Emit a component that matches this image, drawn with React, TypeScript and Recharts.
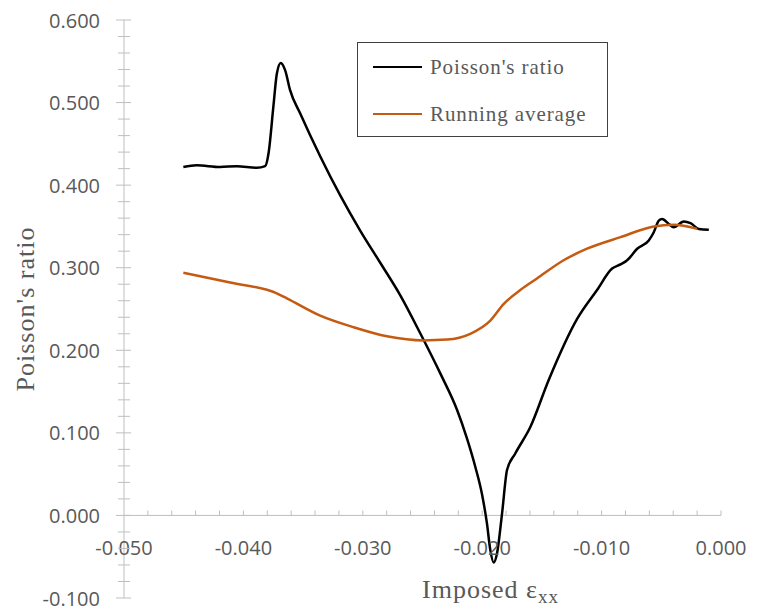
import React from 'react';
import { LineChart, Line, XAxis, YAxis, ReferenceLine, Legend, Label } from 'recharts';

// Poisson's ratio (black)
const ratioX = [
  -0.04503, -0.04391, -0.04195, -0.04055, -0.03888, -0.03818, -0.0379, -0.03749, -0.0372,
  -0.03687, -0.0365, -0.03609, -0.03525, -0.03357, -0.03189, -0.03022, -0.02854,
  -0.02686, -0.02519, -0.02351, -0.02211, -0.02127, -0.02058, -0.02002, -0.0196,
  -0.01932, -0.01904, -0.01876, -0.01834, -0.01792, -0.01723, -0.01597, -0.01443, -0.01205,
  -0.01038, -0.00912, -0.00842, -0.00786, -0.00702, -0.00605, -0.00563, -0.00521, -0.00493,
  -0.00437, -0.00396, -0.00312, -0.00256, -0.00186, -0.00102,
];
const ratioY = [
  0.422, 0.424, 0.422, 0.423, 0.421, 0.423, 0.438, 0.495, 0.535,
  0.548, 0.539, 0.515, 0.487, 0.435, 0.3875, 0.345, 0.306,
  0.2665, 0.2206, 0.172, 0.128, 0.093, 0.059, 0.026, -0.01,
  -0.042, -0.057, -0.046, 0.002, 0.055, 0.075, 0.107, 0.164, 0.238,
  0.273, 0.299, 0.304, 0.309, 0.323, 0.333, 0.343, 0.357, 0.359,
  0.353, 0.349, 0.356, 0.354, 0.347, 0.346,
];

// Running average (orange)
const avgX = [
  -0.04503, -0.04111, -0.0372, -0.03636, -0.03357, -0.03078, -0.02798, -0.02491, -0.02295,
  -0.021, -0.01932, -0.01821, -0.01681, -0.01541, -0.01318, -0.01122, -0.00842,
  -0.00563, -0.00396, -0.002,
];
const avgY = [
  0.294, 0.282, 0.269, 0.263, 0.242, 0.228, 0.217, 0.212, 0.213,
  0.22, 0.236, 0.256, 0.273, 0.287, 0.309, 0.323, 0.337,
  0.35, 0.352, 0.347,
];

const xMajorTicks = [-0.05, -0.04, -0.03, -0.02, -0.01, 0];
const yMajorTicks = [-0.1, 0, 0.1, 0.2, 0.3, 0.4, 0.5, 0.6];
const seriesNames = ["Poisson's ratio", 'Running average'];
const seriesColors = ['#000000', '#C55A11'];
const yTitle = "Poisson's ratio";
const xTitleMain = 'Imposed ε';
const xTitleSub = 'xx';

const ratioData = ratioX.map((x, i) => ({ x, y: ratioY[i] }));
const avgData = avgX.map((x, i) => ({ x, y: avgY[i] }));

// minor ticks: 5 intervals between each major
const makeTicks = (majors: number[]) => {
  const out: number[] = [];
  for (let i = 0; i < majors.length - 1; i++) {
    const a = majors[i];
    const b = majors[i + 1];
    for (let k = 0; k < 5; k++) out.push(Math.round((a + ((b - a) * k) / 5) * 1e6) / 1e6);
  }
  out.push(majors[majors.length - 1]);
  return out;
};
const xTicks = makeTicks(xMajorTicks);
const yTicks = makeTicks(yMajorTicks);

const W = 745;
const H = 602;
const M = { top: 12, right: 32, bottom: 11, left: 0 };
const Y_AXIS_W = 116;
const X_AXIS_H = 1;
const PLOT_H = H - M.top - M.bottom - X_AXIS_H;
const Y_MIN = -0.1;
const Y_MAX = 0.6;
const ZERO_SHIFT = (PLOT_H * (0 - Y_MIN)) / (Y_MAX - Y_MIN);

const AXIS = '#BFBFBF';
const TEXT = '#595959';
const TICK_FONT = "'Open Sans', sans-serif";
const SERIF = "'Liberation Serif', serif";

const isMajor = (v: number, step: number) => Math.abs(v / step - Math.round(v / step)) < 1e-6;
const fmt = (v: number) => (Math.abs(v) < 1e-9 ? 0 : v).toFixed(3);

const XTick = (props: any) => {
  const { x, y, payload } = props;
  const v = payload.value;
  const zy = y - ZERO_SHIFT;
  const major = isMajor(v, 0.01);
  return (
    <g>
      {v > -0.0499 && <line x1={x} x2={x} y1={zy} y2={zy - 5} stroke={AXIS} strokeWidth={1} />}
      {major && (
        <text x={x} y={zy + 32} textAnchor="middle" dominantBaseline="central" fill={TEXT} fontSize={20} fontFamily={TICK_FONT}>
          {fmt(v)}
        </text>
      )}
    </g>
  );
};

const YTick = (props: any) => {
  const { x, y, payload } = props;
  const v = payload.value;
  const major = isMajor(v, 0.1);
  return (
    <g>
      <line x1={x - (major ? 8 : 6)} x2={x + (major ? 7 : 6)} y1={y} y2={y} stroke={AXIS} strokeWidth={1} />
      {major && (
        <text x={x - 24} y={y} textAnchor="end" dominantBaseline="central" fill={TEXT} fontSize={20} fontFamily={TICK_FONT}>
          {fmt(v)}
        </text>
      )}
    </g>
  );
};

const LegendBox = () => (
  <div
    style={{
      width: 249,
      height: 93,
      border: '1px solid #404040',
      background: '#fff',
      position: 'relative',
      fontFamily: SERIF,
      fontSize: 21,
      letterSpacing: 0.9,
      color: TEXT,
    }}
  >
    {seriesNames.map((name, i) => (
      <div key={name} style={{ position: 'absolute', left: 15, top: 10 + i * 47, height: 28, display: 'flex', alignItems: 'center' }}>
        <div style={{ width: 49, height: 0, borderTop: `2.5px solid ${seriesColors[i]}` }} />
        <span style={{ marginLeft: 8, whiteSpace: 'nowrap' }}>{name}</span>
      </div>
    ))}
  </div>
);

export default function App() {
  return (
    <LineChart width={W} height={H} margin={M}>
      <XAxis
        type="number"
        dataKey="x"
        domain={[-0.05, 0]}
        ticks={xTicks}
        interval={0}
        height={X_AXIS_H}
        axisLine={false}
        tickLine={false}
        tickSize={0}
        tickMargin={0}
        tick={<XTick />}
        allowDataOverflow
      >
        <Label
          content={(p: any) => {
            const vb = p.viewBox || {};
            return (
              <text x={vb.x + vb.width / 2 + 68} y={vb.y} textAnchor="middle" fill={TEXT} fontFamily={SERIF} fontSize={26} letterSpacing={1}>
                {xTitleMain}
                <tspan fontSize={19} dy={5}>{xTitleSub}</tspan>
              </text>
            );
          }}
        />
      </XAxis>
      <YAxis
        type="number"
        domain={[Y_MIN, Y_MAX]}
        ticks={yTicks}
        interval={0}
        width={Y_AXIS_W}
        axisLine={{ stroke: AXIS, strokeWidth: 1 }}
        tickLine={false}
        tickSize={0}
        tickMargin={0}
        tick={<YTick />}
        allowDataOverflow
      >
        <Label
          content={(p: any) => {
            const vb = p.viewBox || {};
            const cx = vb.x + 17;
            const cy = vb.y + vb.height / 2;
            return (
              <text
                x={cx}
                y={cy}
                transform={`rotate(-90 ${cx} ${cy})`}
                textAnchor="middle"
                dominantBaseline="central"
                fill={TEXT}
                fontFamily={SERIF}
                fontSize={26}
                letterSpacing={1}
              >
                {yTitle}
              </text>
            );
          }}
        />
      </YAxis>
      <ReferenceLine y={0} stroke={AXIS} strokeWidth={1} />
      <Line
        data={ratioData}
        dataKey="y"
        name={seriesNames[0]}
        type="monotone"
        stroke={seriesColors[0]}
        strokeWidth={2.5}
        dot={false}
        activeDot={false}
        isAnimationActive={false}
      />
      <Line
        data={avgData}
        dataKey="y"
        name={seriesNames[1]}
        type="monotone"
        stroke={seriesColors[1]}
        strokeWidth={2.5}
        dot={false}
        activeDot={false}
        isAnimationActive={false}
      />
      <Legend
        layout="horizontal"
        verticalAlign="middle"
        align="center"
        content={<LegendBox />}
        wrapperStyle={{ position: 'absolute', left: 349, top: 34, width: 'auto', height: 'auto' }}
      />
    </LineChart>
  );
}
